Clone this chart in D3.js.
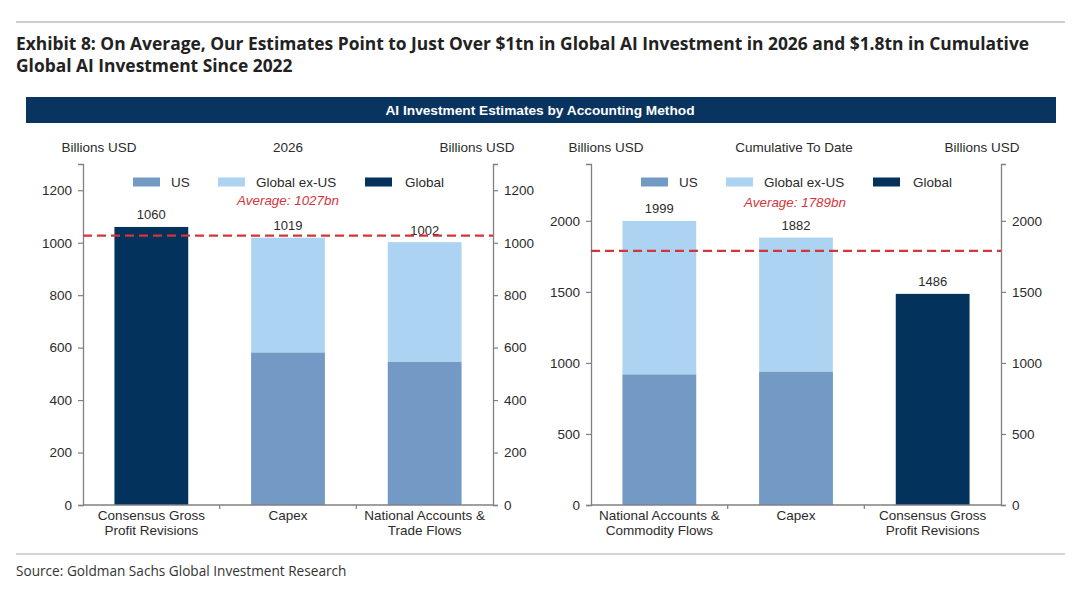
<!DOCTYPE html>
<html><head><meta charset="utf-8">
<script src="https://cdn.jsdelivr.net/npm/d3@7"></script>
<style>
html,body{margin:0;padding:0;background:#fff;}
svg{display:block;}
</style></head>
<body>
<svg id="c" width="1080" height="592"></svg>
<script>
// ---------- DATA ----------
const titleLines = [
  "Exhibit 8: On Average, Our Estimates Point to Just Over $1tn in Global AI Investment in 2026 and $1.8tn in Cumulative",
  "Global AI Investment Since 2022"
];
const bannerText = "AI Investment Estimates by Accounting Method";
const sourceText = "Source: Goldman Sachs Global Investment Research";
const seriesNames = ["US", "Global ex-US", "Global"];

const panelTitles = ["2026", "Cumulative To Date"];
const unitLabel = "Billions USD";

const categories2026 = ["Consensus Gross|Profit Revisions", "Capex", "National Accounts &|Trade Flows"];
const us2026      = [0, 582, 547];
const exUs2026    = [0, 437, 455];
const global2026  = [1060, 0, 0];
const totals2026  = [1060, 1019, 1002];
const average2026 = 1027;
const ticks2026   = [0, 200, 400, 600, 800, 1000, 1200];
const max2026     = 1300;

const categoriesCum = ["National Accounts &|Commodity Flows", "Capex", "Consensus Gross|Profit Revisions"];
const usCum      = [920, 940, 0];
const exUsCum    = [1079, 942, 0];
const globalCum  = [0, 0, 1486];
const totalsCum  = [1999, 1882, 1486];
const averageCum = 1789;
const ticksCum   = [0, 500, 1000, 1500, 2000];
const maxCum     = 2400;

// ---------- STYLE ----------
const colors = {US: "#7399c5", "Global ex-US": "#acd3f1", Global: "#03335c"};
const red = "#d2363b";
const axisCol = "#808080";
const textCol = "#2b2b2b";
const chartFont = "'Liberation Sans', Arial, sans-serif";
const fs = 13.5;

const svg = d3.select("#c");

// top & bottom rules
svg.append("line").attr("x1",16).attr("x2",1065).attr("y1",22).attr("y2",22)
  .attr("stroke","#cfcfcf").attr("stroke-width",2);
svg.append("line").attr("x1",16).attr("x2",1065).attr("y1",554).attr("y2",554)
  .attr("stroke","#d4d4d4").attr("stroke-width",2);

// title
const tl = svg.append("g");
titleLines.forEach((t,i)=>{
  tl.append("text").attr("x",16).attr("y",50+i*22).text(t)
    .attr("font-family","'Open Sans', 'Noto Sans', sans-serif").attr("font-weight",700)
    .attr("font-size",15.5).attr("fill","#222");
});
(function(){
  const n = tl.select("text").node();
  const w = n.getComputedTextLength();
  tl.selectAll("text").attr("font-size",15.5*1014/w);
})();

// source
const src = svg.append("text").attr("x",16).attr("y",576).text(sourceText)
  .attr("font-family","'Open Sans', 'Noto Sans', sans-serif").attr("font-size",13).attr("fill","#333");
(function(){
  const w = src.node().getComputedTextLength();
  src.attr("font-size",13*331/w);
})();

// banner
svg.append("rect").attr("x",26).attr("y",97).attr("width",1030).attr("height",26).attr("fill","#08345f");
svg.append("text").attr("x",540).attr("y",114.8).attr("text-anchor","middle").text(bannerText)
  .attr("font-family",chartFont).attr("font-weight",700).attr("font-size",13.7).attr("fill","#fff");

function drawPanel(p){
  const g = svg.append("g");
  const y = d3.scaleLinear().domain([0,p.max]).range([505,164]);
  const x = d3.scaleBand().domain(p.categories).range([p.x0,p.x1]).paddingInner(0.46).paddingOuter(0.23);

  // headers
  [[p.hx[0],unitLabel],[p.hx[1],p.title],[p.hx[2],unitLabel]].forEach(([hx,t])=>{
    g.append("text").attr("x",hx).attr("y",152).attr("text-anchor","middle").text(t)
      .attr("font-family",chartFont).attr("font-size",fs).attr("fill",textCol);
  });

  // bars
  const rows = p.categories.map((c,i)=>({c, US:p.us[i], "Global ex-US":p.exUs[i], Global:p.global[i], total:p.totals[i]}));
  const stack = d3.stack().keys(seriesNames)(rows);
  g.append("g").selectAll("g").data(stack).join("g").attr("fill",d=>colors[d.key])
    .selectAll("rect").data(d=>d).join("rect")
    .attr("x",d=>x(d.data.c)).attr("width",x.bandwidth())
    .attr("y",d=>y(d[1])).attr("height",d=>y(d[0])-y(d[1]));

  // value labels
  g.append("g").selectAll("text").data(rows).join("text")
    .attr("x",d=>x(d.c)+x.bandwidth()/2).attr("y",d=>y(d.total)-7.5)
    .attr("text-anchor","middle").text(d=>d.total)
    .attr("font-family",chartFont).attr("font-size",13).attr("fill",textCol);

  // axes
  const fmt = d3.format("d");
  const left = g.append("g").attr("transform",`translate(${p.x0},0)`)
    .call(d3.axisLeft(y).tickValues(p.ticks).tickFormat(fmt).tickSize(5).tickPadding(6));
  const right = g.append("g").attr("transform",`translate(${p.x1},0)`)
    .call(d3.axisRight(y).tickValues(p.ticks).tickFormat(fmt).tickSize(5).tickPadding(6));
  [left,right].forEach(a=>{
    a.select(".domain").attr("stroke",axisCol).attr("stroke-width",1.3);
    a.selectAll(".tick line").attr("stroke",axisCol).attr("stroke-width",1.2);
    a.selectAll("text").attr("font-family",chartFont).attr("font-size",fs).attr("fill",textCol);
  });
  // x axis
  g.append("line").attr("x1",p.x0).attr("x2",p.x1).attr("y1",505).attr("y2",505)
    .attr("stroke",axisCol).attr("stroke-width",1.3);
  const step = x.step();
  g.append("g").selectAll("line").data(p.categories.slice(1)).join("line")
    .attr("x1",d=>x(d)-x.paddingInner()*step/2).attr("x2",d=>x(d)-x.paddingInner()*step/2)
    .attr("y1",505).attr("y2",509).attr("stroke",axisCol).attr("stroke-width",1.2);
  // category labels
  const cl = g.append("g").selectAll("text").data(p.categories).join("text")
    .attr("x",d=>x(d)+x.bandwidth()/2).attr("y",520).attr("text-anchor","middle")
    .attr("font-family",chartFont).attr("font-size",fs).attr("fill",textCol);
  cl.selectAll("tspan").data(d=>d.split("|").map(s=>({s,x:x(d)+x.bandwidth()/2}))).join("tspan")
    .attr("x",d=>d.x).attr("dy",(d,i)=>i===0?0:15).text(d=>d.s);

  // average line
  g.append("line").attr("x1",p.x0).attr("x2",p.x1).attr("y1",y(p.avg)).attr("y2",y(p.avg))
    .attr("stroke",red).attr("stroke-width",2.2).attr("stroke-dasharray","9,5");
  g.append("text").attr("x",p.avgX).attr("y",p.avgY).attr("text-anchor","middle")
    .text(`Average: ${p.avg}bn`).attr("font-family",chartFont).attr("font-style","italic")
    .attr("font-size",13.4).attr("fill",red);

  // legend
  const swX = [50,135,282], txX = [88,173,322];
  seriesNames.forEach((s,i)=>{
    g.append("rect").attr("x",p.x0+swX[i]).attr("y",177.5).attr("width",27).attr("height",9).attr("fill",colors[s]);
    g.append("text").attr("x",p.x0+txX[i]).attr("y",187).text(s)
      .attr("font-family",chartFont).attr("font-size",fs).attr("fill",textCol);
  });
}

drawPanel({x0:83, x1:493, max:max2026, ticks:ticks2026, categories:categories2026,
  us:us2026, exUs:exUs2026, global:global2026, totals:totals2026, avg:average2026,
  title:panelTitles[0], hx:[99,288,477], avgX:288, avgY:205});
drawPanel({x0:591, x1:1001, max:maxCum, ticks:ticksCum, categories:categoriesCum,
  us:usCum, exUs:exUsCum, global:globalCum, totals:totalsCum, avg:averageCum,
  title:panelTitles[1], hx:[606,794,982], avgX:795, avgY:207});
</script>
</body></html>
